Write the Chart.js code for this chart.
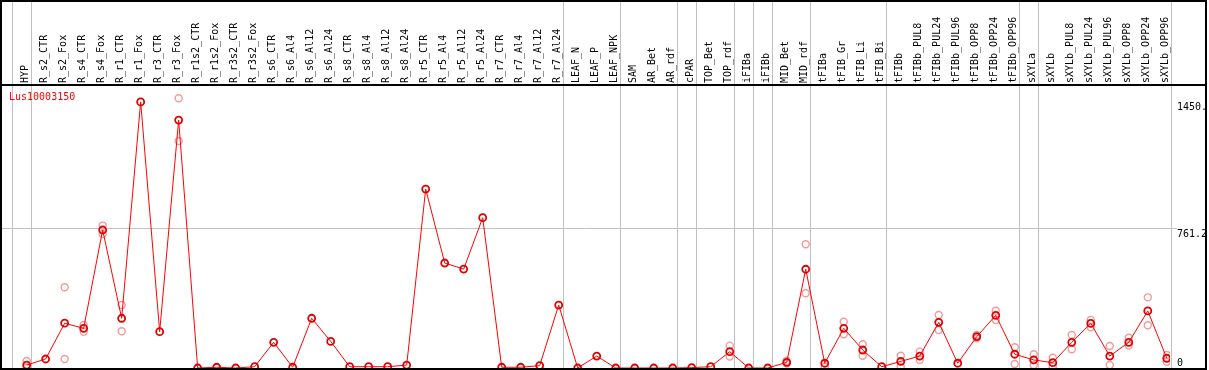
<!DOCTYPE html>
<html>
<head>
<meta charset="utf-8">
<script src="https://cdn.jsdelivr.net/npm/chart.js@4.4.0/dist/chart.umd.min.js"></script>
<style>
  html, body { margin: 0; padding: 0; background: #fff; }
  #wrap { width: 1209px; height: 370px; }
</style>
</head>
<body>
<div id="wrap"><canvas id="grafico" width="1209" height="370"></canvas></div>
<script>
// ---- DADOS ----
const geneId = "Lus10003150";

const categorias = [
    "HYP", "R_s2_CTR", "R_s2_Fox", "R_s4_CTR", "R_s4_Fox", "R_r1_CTR", "R_r1_Fox",
    "R_r3_CTR", "R_r3_Fox", "R_r1s2_CTR", "R_r1s2_Fox", "R_r3s2_CTR", "R_r3s2_Fox",
    "R_s6_CTR", "R_s6_Al4", "R_s6_Al12", "R_s6_Al24", "R_s8_CTR", "R_s8_Al4", "R_s8_Al12",
    "R_s8_Al24", "R_r5_CTR", "R_r5_Al4", "R_r5_Al12", "R_r5_Al24", "R_r7_CTR", "R_r7_Al4",
    "R_r7_Al12", "R_r7_Al24", "LEAF_N", "LEAF_P", "LEAF_NPK", "SAM", "AR_Bet", "AR_rdf",
    "cPAR", "TOP_Bet", "TOP_rdf", "iFIBa", "iFIBb", "MID_Bet", "MID_rdf", "tFIBa",
    "tFIB_Gr", "tFIB_Li", "tFIB_Bi", "tFIBb", "tFIBb_PUL8", "tFIBb_PUL24", "tFIBb_PUL96",
    "tFIBb_OPP8", "tFIBb_OPP24", "tFIBb_OPP96", "sXYLa", "sXYLb", "sXYLb_PUL8",
    "sXYLb_PUL24", "sXYLb_PUL96", "sXYLb_OPP8", "sXYLb_OPP24", "sXYLb_OPP96"
];

// media de cada amostra
const medias = [
    16, 49, 244, 216, 752, 271, 1450,
    198, 1351, 0, 4, 0, 7,
    140, 4, 271, 145, 7, 7, 7,
    16, 975, 572, 539, 819, 4, 4,
    13, 343, 0, 65, 0, 0, 0, 0,
    2, 7, 89, 0, 0, 31, 538, 26,
    216, 98, 7, 36, 65, 249, 26,
    171, 287, 75, 44, 29, 140,
    243, 65, 140, 311, 53
];

// replicas (null = escondida atras da media)
const replicaA = [
    38, null, 440, 234, 776, 343, null,
    null, 1470, null, null, null, null,
    null, null, null, null, null, null, null,
    null, null, null, null, null, null, null,
    null, null, null, null, null, null, null, null,
    null, null, 122, null, null, 40, 674, null,
    252, 129, null, 67, 89, 289, null,
    180, 312, 113, 75, 56, 180,
    262, 120, 165, 385, 71
];
const replicaB = [
    3, null, 49, 198, 730, 200, null,
    null, 1237, null, null, null, null,
    null, null, null, null, null, null, null,
    null, null, null, null, null, null, null,
    null, null, null, null, null, null, null, null,
    null, null, 62, null, null, 24, 407, 7,
    184, 67, null, 7, 44, 207, null,
    162, 262, 22, 16, 7, 102,
    222, 16, 122, 233, 34
];

// ultimo indice de cada grupo (linhas cinza)
const fimGrupo = [-1, 0, 28, 31, 34, 35, 37, 38, 39, 41, 45, 52, 53, 60];

const yTicks = [0, 761.2, 1450];
const yTickLabels = ["0", "761.2", "1450."];

const fonte = "'DejaVu Sans Mono', monospace";

const pontos = arr => arr
    .map((v, i) => (v === null ? null : { x: i, y: v }))
    .filter(p => p !== null);

// ---- MOLDURA / TEXTOS ----
const moldura = {
    id: "moldura",
    beforeDatasetsDraw(chart) {
        const { ctx, scales: { x } } = chart;
        ctx.save();
        ctx.strokeStyle = "#c0c0c0";
        ctx.lineWidth = 1;
        fimGrupo.forEach(i => {
            const px = Math.round(x.getPixelForValue(i) + 4) + 0.5;
            ctx.beginPath();
            ctx.moveTo(px, 0);
            ctx.lineTo(px, chart.height);
            ctx.stroke();
        });
        ctx.restore();
    },
    afterDraw(chart) {
        const { ctx, chartArea, scales: { y } } = chart;
        ctx.save();

        // bordas pretas
        ctx.strokeStyle = "#000";
        ctx.lineWidth = 2;
        ctx.strokeRect(1, 1, 1205, chartArea.bottom);
        ctx.beginPath();
        ctx.moveTo(1, chartArea.top);
        ctx.lineTo(1206, chartArea.top);
        ctx.stroke();

        // rotulos do eixo y
        ctx.font = `10px ${fonte}`;
        ctx.fillStyle = "#000";
        ctx.textAlign = "left";
        yTicks.forEach((v, k) => {
            const py = y.getPixelForValue(v);
            if (py + 12 > chartArea.bottom) {
                ctx.textBaseline = "bottom";
                ctx.fillText(yTickLabels[k], 1177, py);
            } else {
                ctx.textBaseline = "top";
                ctx.fillText(yTickLabels[k], 1177, py + 1);
            }
        });

        // nome do gene
        ctx.fillStyle = "#ff0000";
        ctx.textBaseline = "middle";
        ctx.fillText(geneId, 9, 97);
        ctx.restore();
    }
};

// ---- GRAFICO ----
const ctx = document.getElementById("grafico").getContext("2d");
new Chart(ctx, {
    type: "line",
    data: {
        datasets: [
            {
                label: geneId,
                data: pontos(medias),
                borderColor: "#ff0000",
                borderWidth: 1,
                pointRadius: 3.5,
                pointBorderWidth: 1.8,
                pointBorderColor: "#e00000",
                pointBackgroundColor: "rgba(0,0,0,0)",
                tension: 0,
                fill: false
            },
            {
                label: "rep A",
                data: pontos(replicaA),
                showLine: false,
                pointRadius: 3.5,
                pointBorderWidth: 1.4,
                pointBorderColor: "#f09a9a",
                pointBackgroundColor: "rgba(0,0,0,0)"
            },
            {
                label: "rep B",
                data: pontos(replicaB),
                showLine: false,
                pointRadius: 3.5,
                pointBorderWidth: 1.4,
                pointBorderColor: "#f09a9a",
                pointBackgroundColor: "rgba(0,0,0,0)"
            }
        ]
    },
    options: {
        responsive: false,
        devicePixelRatio: 1,
        animation: false,
        layout: { autoPadding: false, padding: { left: 1, right: 0, top: 0, bottom: 2 } },
        plugins: { legend: { display: false }, tooltip: { enabled: false } },
        scales: {
            x: {
                type: "linear",
                position: "top",
                min: -1.35,
                max: 60.17,
                afterBuildTicks: s => { s.ticks = categorias.map((c, i) => ({ value: i })); },
                afterFit: s => { s.height = 85; s.paddingLeft = 0; s.paddingRight = 0; },
                grid: { display: false, drawTicks: false },
                border: { display: false },
                ticks: {
                    autoSkip: false,
                    minRotation: 90,
                    maxRotation: 90,
                    padding: 2,
                    labelOffset: 10.5,
                    color: "#000",
                    font: { family: fonte, size: 10 },
                    callback: v => categorias[v]
                }
            },
            y: {
                position: "right",
                min: 0,
                max: 1542,
                afterBuildTicks: s => { s.ticks = yTicks.map(v => ({ value: v })); },
                afterFit: s => { s.width = 39; s.paddingTop = 0; s.paddingBottom = 0; },
                grid: {
                    color: c => (c.tick && c.tick.value === 761.2 ? "#c0c0c0" : "rgba(0,0,0,0)"),
                    tickLength: 7
                },
                border: { display: false },
                ticks: { display: false }
            }
        }
    },
    plugins: [moldura]
});
</script>
</body>
</html>
